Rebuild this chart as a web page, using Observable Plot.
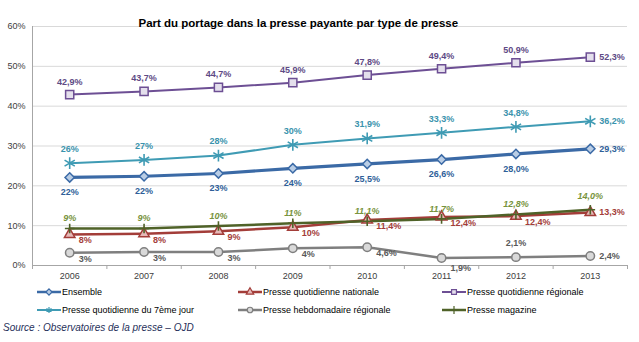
<!DOCTYPE html>
<html><head><meta charset="utf-8">
<script src="https://cdn.jsdelivr.net/npm/d3@7"></script>
<script src="https://cdn.jsdelivr.net/npm/@observablehq/plot@0.6"></script>
<style>
body{margin:0;background:#fff;font-family:"Liberation Sans",Arial,sans-serif;}
#wrap{position:relative;width:639px;height:342px;overflow:hidden;}
#chart{position:absolute;left:0;top:0;}
.leg{position:absolute;height:14px;display:flex;align-items:center;font-size:9px;color:#000;white-space:nowrap;}
.leg svg{display:block;margin-right:1px;}
#source{position:absolute;left:3px;top:322px;font-size:10px;font-style:italic;color:#1f2f5a;}
</style></head><body>
<div id="wrap"><div id="chart"></div><div id="legend"></div><div id="source">Source : Observatoires de la presse – OJD</div></div>
<script>
const title = "Part du portage dans la presse payante par type de presse";
const years = [2006, 2007, 2008, 2009, 2010, 2011, 2012, 2013];
const yTicks = [0, 10, 20, 30, 40, 50, 60];

const ensemble = [22.1, 22.4, 23.1, 24.4, 25.5, 26.6, 28.0, 29.3];
const ensembleLabels = ["22%", "22%", "23%", "24%", "25,5%", "26,6%", "28,0%", "29,3%"];
const pqn = [7.8, 8.0, 8.6, 9.6, 11.4, 12.2, 12.4, 13.3];
const pqnLabels = ["8%", "8%", "9%", "10%", "11,4%", "12,4%", "12,4%", "13,3%"];
const pqr = [42.9, 43.7, 44.7, 45.9, 47.8, 49.4, 50.9, 52.3];
const pqrLabels = ["42,9%", "43,7%", "44,7%", "45,9%", "47,8%", "49,4%", "50,9%", "52,3%"];
const p7j = [25.7, 26.5, 27.6, 30.3, 31.9, 33.3, 34.8, 36.2];
const p7jLabels = ["26%", "27%", "28%", "30%", "31,9%", "33,3%", "34,8%", "36,2%"];
const phr = [3.2, 3.4, 3.4, 4.3, 4.6, 1.9, 2.1, 2.4];
const phrLabels = ["3%", "3%", "3%", "4%", "4,6%", "1,9%", "2,1%", "2,4%"];
const mag = [9.3, 9.3, 9.9, 10.6, 11.1, 11.7, 12.8, 14.0];
const magLabels = ["9%", "9%", "10%", "11%", "11,1%", "11,7%", "12,8%", "14,0%"];

// label placement keys (style)
const placements = {
  above: {dy: -13},
  aboveHigh: {dy: -14},
  below: {dy: 15},
  right: {dx: 9, textAnchor: "start"},
  lowRight: {dx: 9, dy: 6, textAnchor: "start"},
  lowRightFar: {dx: 9, dy: 10, textAnchor: "start"},
  magAbove: {dy: -10}
};

const series = [
  {name: "Ensemble", values: ensemble, labels: ensembleLabels,
   pos: ["below","below","below","below","below","below","below","right"],
   color: "#3b6aa6", fill: "#b9cde5", symbol: "diamond2", d3sym: d3.symbolDiamond2, r: 4.2, sw: 3.2, labelColor: "#2f5f99"},
  {name: "Presse quotidienne nationale", values: pqn, labels: pqnLabels,
   pos: ["lowRight","lowRight","lowRight","lowRight","lowRight","lowRight","lowRight","right"],
   color: "#a33d39", fill: "#e6b9b8", symbol: "triangle", d3sym: d3.symbolTriangle, r: 3.9, sw: 2.5, labelColor: "#a33d39"},
  {name: "Presse quotidienne régionale", values: pqr, labels: pqrLabels,
   pos: ["above","above","above","above","above","above","above","right"],
   color: "#6d4f94", fill: "#e4dfec", symbol: "square", d3sym: d3.symbolSquare, r: 4.6, sw: 2, labelColor: "#5e4a85"},
  {name: "Presse quotidienne du 7ème jour", values: p7j, labels: p7jLabels,
   pos: ["aboveHigh","aboveHigh","aboveHigh","aboveHigh","aboveHigh","aboveHigh","aboveHigh","right"],
   color: "#3f9bb4", fill: "none", symbol: "asterisk", d3sym: d3.symbolAsterisk, r: 5.6, sw: 2, labelColor: "#3a93ad"},
  {name: "Presse hebdomadaire régionale", values: phr, labels: phrLabels,
   pos: ["lowRight","lowRight","lowRight","lowRight","lowRight","lowRightFar","aboveHigh","right"],
   color: "#7f7f7f", fill: "#d9d9d9", symbol: "circle", d3sym: d3.symbolCircle, r: 4.2, sw: 2.5, labelColor: "#595959"},
  {name: "Presse magazine", values: mag, labels: magLabels,
   pos: ["magAbove","magAbove","magAbove","magAbove","magAbove","magAbove","magAbove","aboveHigh"],
   color: "#4f6228", fill: "none", symbol: "plus", d3sym: d3.symbolPlus, r: 3.2, sw: 2.5, labelColor: "#77933c", italic: true}
];

const rows = series.flatMap(s => years.map((y, i) => ({series: s.name, year: y, value: s.values[i], label: s.labels[i], pos: s.pos[i]})));
const bounds = [years[0] - 0.5, ...years.map(y => y + 0.5)];

const marks = [
  Plot.gridY(yTicks.filter(d => d > 0), {stroke: "#d9d9d9", strokeOpacity: 1}),
  Plot.ruleX([bounds[0]], {stroke: "#a6a6a6"}),
  Plot.ruleY([0], {stroke: "#a6a6a6"}),
  Plot.axisY(yTicks, {tickSize: 0, tickPadding: 7, tickFormat: d => d + "%", label: null, fontSize: 9}),
  Plot.axisX(years, {tickSize: 0, tickPadding: 7, tickFormat: d => String(d), label: null, fontSize: 9}),
  Plot.axisX(bounds, {tickSize: 4, tickFormat: () => "", label: null, stroke: "#a6a6a6"}),
  Plot.text([title], {frameAnchor: "top-left", dx: 106, dy: -8, textAnchor: "start", fontWeight: "bold", fontSize: 11.5, fill: "#000"})
];
for (const s of series) {
  const d = rows.filter(r => r.series === s.name);
  marks.push(Plot.line(d, {x: "year", y: "value", stroke: s.color, strokeWidth: s.sw, strokeLinejoin: "round"}));
}
for (const s of series) {
  const d = rows.filter(r => r.series === s.name);
  marks.push(Plot.dot(d, {x: "year", y: "value", symbol: s.symbol, r: s.r, fill: s.fill, stroke: s.color, strokeWidth: s.symbol === "asterisk" || s.symbol === "plus" ? 1.6 : 1.5}));
}
for (const s of series) {
  const d = rows.filter(r => r.series === s.name);
  for (const key of [...new Set(d.map(r => r.pos))]) {
    marks.push(Plot.text(d.filter(r => r.pos === key), {
      x: "year", y: "value", text: "label", fill: s.labelColor, fontSize: 9, fontWeight: "bold",
      fontStyle: s.italic ? "italic" : "normal", ...placements[key]
    }));
  }
}

const chart = Plot.plot({
  width: 639, height: 285,
  marginTop: 26, marginBottom: 20, marginLeft: 32, marginRight: 12,
  x: {type: "linear", domain: [bounds[0], bounds[bounds.length - 1]]},
  y: {domain: [0, 60]},
  style: {fontFamily: "'Liberation Sans', Arial, sans-serif", fontSize: "9px", color: "#404040", background: "transparent"},
  marks
});
document.getElementById("chart").appendChild(chart);

// legend
const legCols = [37, 238, 442];
const legRows = [285, 303];
const leg = d3.select("#legend");
series.forEach((s, i) => {
  const item = leg.append("div").attr("class", "leg")
    .style("left", legCols[i % 3] + "px").style("top", legRows[Math.floor(i / 3)] + "px");
  const svg = item.append("svg").attr("width", 24).attr("height", 12);
  svg.append("line").attr("x1", 0).attr("x2", 24).attr("y1", 6).attr("y2", 6)
    .attr("stroke", s.color).attr("stroke-width", Math.min(s.sw, 2.5));
  svg.append("path").attr("transform", "translate(12,6)")
    .attr("d", d3.symbol(s.d3sym, 24)())
    .attr("fill", s.fill).attr("stroke", s.color).attr("stroke-width", 1.2);
  item.append("span").text(s.name);
});
</script>
</body></html>
